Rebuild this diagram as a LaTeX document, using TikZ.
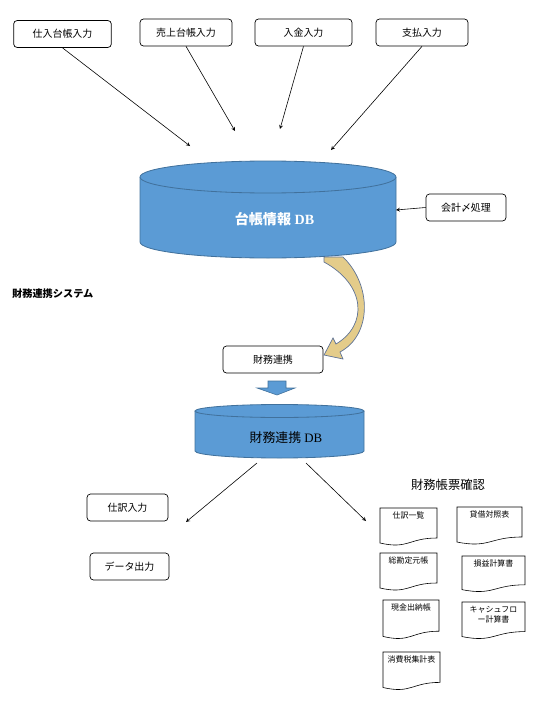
\documentclass[tikz,border=0pt]{standalone}
\usepackage{fontspec}
\setmainfont{Liberation Serif}
\newfontfamily\jp{Noto Sans CJK JP}
\usepackage{tikz}
\usetikzlibrary{shapes,arrows,positioning}

\definecolor{dbblue}{RGB}{91,155,213}
\definecolor{dbline}{RGB}{65,113,156}
\definecolor{linkgold}{RGB}{228,204,138}
\definecolor{linkline}{RGB}{96,116,150}

% report sheet: name, left x, top y, width, height, label
\newcommand{\reportsheet}[6]{%
  \draw[sheet] (#2,#3) -- (#2+#4,#3) -- (#2+#4,#3+0.8*#5)
    .. controls (#2+0.5*#4,#3+0.8*#5) and (#2+0.5*#4,#3+1.107*#5) .. (#2,#3+0.934*#5) -- cycle;
  \node[sheettext, anchor=north] (#1) at (#2+0.5*#4,#3+4) {#6};
}

\begin{document}
\begin{tikzpicture}[
    x=0.03cm, y=-0.03cm,
    inputbox/.style={rectangle, draw, rounded corners=3pt, line width=0.6pt, minimum height=0.81cm, inner sep=0pt, font=\jp\fontsize{8.5}{10}\selectfont},
    dbcyl/.style={fill=dbblue, draw=dbline, line width=0.7pt},
    sheet/.style={draw, line width=0.5pt, fill=white},
    sheettext/.style={align=center, inner sep=0pt, font=\jp\fontsize{6.8}{8.5}\selectfont},
    dataflow/.style={->, line width=0.5pt, >=stealth}
]
\useasboundingbox (0,0) rectangle (541,703);

% Input screens
\node[inputbox, minimum width=2.93cm] (purchase) at (62.5,34) {仕入台帳入力};
\node[inputbox, minimum width=2.76cm] (sales) at (186,32.5) {売上台帳入力};
\node[inputbox, minimum width=2.91cm] (receipt) at (303.5,32.5) {入金入力};
\node[inputbox, minimum width=2.76cm] (payment) at (422,32.5) {支払入力};
\node[inputbox, minimum width=2.4cm] (closing) at (466,207.5) {会計〆処理};

% Ledger DB
\path[dbcyl] (140,177) -- (140,242) arc[start angle=180, end angle=0, x radius=128, y radius=16] -- (396,177);
\path[dbcyl] (268,177) ellipse [x radius=128, y radius=16];
\node[text=white, font=\bfseries\fontsize{12}{14}\selectfont] (ledger) at (274.5,219) {{\jp 台帳情報} DB};
\coordinate (inA) at (190,146);
\coordinate (inB) at (235,131);
\coordinate (inC) at (280,129);
\coordinate (inD) at (331,150);
\coordinate (ledgerE) at (396,210);

\node[anchor=west, font=\jp\bfseries\fontsize{8.7}{10}\selectfont] (system) at (8,294) {財務連携システム};

% Financial link
\node[inputbox, minimum width=3cm] (link) at (273,359.5) {財務連携};
\path[fill=linkgold, draw=linkline, line width=0.6pt] (324,257) -- (343,257)
  .. controls (372,285) and (372,335) .. (340,352) -- (343,359) -- (324,355) -- (333,338) -- (336,344)
  .. controls (368,325) and (366,285) .. (324,262) -- cycle;
\path[dbcyl, line width=0.5pt] (268,381) -- (286,381) -- (286,388) -- (295,388) -- (277,395) -- (257,388) -- (268,388) -- cycle;

% Link DB
\path[dbcyl] (195,411) -- (195,451) arc[start angle=180, end angle=0, x radius=84.5, y radius=7] -- (364,411);
\path[dbcyl] (279.5,411) ellipse [x radius=84.5, y radius=6.5];
\node[font=\fontsize{11}{13}\selectfont] (linkdb) at (286,438) {{\jp 財務連携} DB};
\coordinate (dbL) at (257,463);
\coordinate (dbR) at (306,463);
\coordinate (outL) at (186,522);
\coordinate (outR) at (366,521);

% Outputs
\node[inputbox, minimum width=2.43cm] (journal) at (127.5,507.5) {仕訳入力};
\node[inputbox, minimum width=2.37cm] (export) at (129.5,566.5) {データ出力};
\node[font=\jp\fontsize{10.5}{12}\selectfont] (reports) at (448,485) {財務帳票確認};

\reportsheet{journallist}{380}{508}{57}{37.5}{仕訳一覧}
\reportsheet{balance}{457}{507}{65}{37.5}{貸借対照表}
\reportsheet{general}{380}{553}{57}{37.5}{総勘定元帳}
\reportsheet{income}{462}{556}{63}{36}{損益計算書}
\reportsheet{cashbook}{383}{600}{56}{39}{現金出納帳}
\reportsheet{cashflow}{462}{602}{63}{37}{キャシュフロ\\ー計算書}
\reportsheet{taxsum}{383}{652}{57}{38}{消費税集計表}

% Data flows
\draw[dataflow] (purchase.south) -- (inA);
\draw[dataflow] (sales.south) -- (inB);
\draw[dataflow] (receipt.south) -- (inC);
\draw[dataflow] (payment.south) -- (inD);
\draw[dataflow] (closing.west) -- (ledgerE);
\draw[dataflow] (dbL) -- (outL);
\draw[dataflow] (dbR) -- (outR);

\end{tikzpicture}
\end{document}
